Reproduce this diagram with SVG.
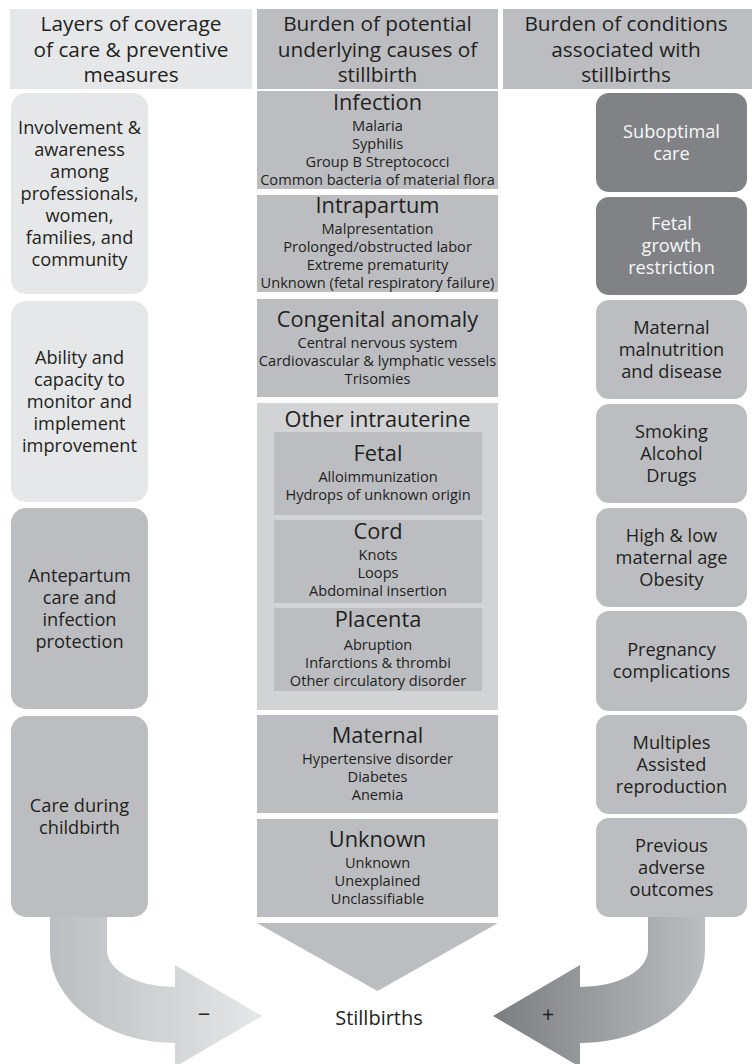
<svg xmlns="http://www.w3.org/2000/svg" width="752" height="1064" viewBox="0 0 752 1064">
<defs>
<style>
text{font-family:"Open Sans","Noto Sans","Liberation Sans",sans-serif;fill:#231f20;text-anchor:middle}
.hd{font-size:20.8px}
.sd{font-size:18.2px}
.tt{font-size:21.8px}
.it{font-size:14.6px}
.wt{fill:#f7f7f7}
.light{fill:#e6e7e8}
.mid{fill:#bcbdc0}
.outer{fill:#d1d3d4}
.dark{fill:#808285}
</style>
<linearGradient id="gl" gradientUnits="userSpaceOnUse" x1="50" y1="0" x2="262" y2="0">
<stop offset="0" stop-color="#bcbdc0"/>
<stop offset="1" stop-color="#e6e7e8"/>
</linearGradient>
<linearGradient id="gr" gradientUnits="userSpaceOnUse" x1="493" y1="0" x2="705" y2="0">
<stop offset="0" stop-color="#7c7d80"/>
<stop offset="1" stop-color="#bcbdc0"/>
</linearGradient>
</defs>
<rect width="752" height="1064" fill="#ffffff"/>

<g id="connectors">
<path d="M50 905 L50 950 A125 93 0 0 0 175 1043 L175 1067 L262 1016 L175 965 L175 987 A68 37 0 0 1 107 950 L107 905 Z" fill="url(#gl)"/>
<path d="M705 905 L705 950 A125 93 0 0 1 580 1043 L580 1067 L493 1016 L580 965 L580 987 A68 37 0 0 0 648 950 L648 905 Z" fill="url(#gr)"/>
<polygon points="257,923 498,923 377.5,991" class="mid"/>
<text x="204" y="1022" style="font-size:22px">−</text>
<text x="548" y="1022" style="font-size:22px">+</text>
</g>

<g id="header-left">
<rect x="10" y="9" width="242" height="80" class="light"/>
<text class="hd" x="131" y="31">Layers of coverage</text>
<text class="hd" x="131" y="56.5">of care &amp; preventive</text>
<text class="hd" x="131" y="82">measures</text>
</g>
<g id="header-mid">
<rect x="257" y="9" width="241" height="80" class="mid"/>
<text class="hd" x="377.5" y="31">Burden of potential</text>
<text class="hd" x="377.5" y="56.5">underlying causes of</text>
<text class="hd" x="377.5" y="82">stillbirth</text>
</g>
<g id="header-right">
<rect x="503" y="9" width="249" height="80" class="mid"/>
<text class="hd" x="626" y="31">Burden of conditions</text>
<text class="hd" x="626" y="56.5">associated with</text>
<text class="hd" x="626" y="82">stillbirths</text>
</g>

<g id="left-involvement">
<rect x="11" y="93" width="137" height="201" rx="15" class="light"/>
<text class="sd" x="79.5" y="134">Involvement &amp;</text>
<text class="sd" x="79.5" y="156">awareness</text>
<text class="sd" x="79.5" y="178">among</text>
<text class="sd" x="79.5" y="200">professionals,</text>
<text class="sd" x="79.5" y="222">women,</text>
<text class="sd" x="79.5" y="244">families, and</text>
<text class="sd" x="79.5" y="266">community</text>
</g>
<g id="left-ability">
<rect x="11" y="301" width="137" height="201" rx="15" class="light"/>
<text class="sd" x="79.5" y="364">Ability and</text>
<text class="sd" x="79.5" y="386">capacity to</text>
<text class="sd" x="79.5" y="408">monitor and</text>
<text class="sd" x="79.5" y="430">implement</text>
<text class="sd" x="79.5" y="452">improvement</text>
</g>
<g id="left-antepartum">
<rect x="11" y="508" width="137" height="201" rx="15" class="mid"/>
<text class="sd" x="79.5" y="582">Antepartum</text>
<text class="sd" x="79.5" y="604">care and</text>
<text class="sd" x="79.5" y="626">infection</text>
<text class="sd" x="79.5" y="648">protection</text>
</g>
<g id="left-childbirth">
<rect x="11" y="716" width="137" height="201" rx="15" class="mid"/>
<text class="sd" x="79.5" y="812">Care during</text>
<text class="sd" x="79.5" y="834">childbirth</text>
</g>

<g id="mid-infection">
<rect x="257" y="91" width="241" height="98" class="mid"/>
<text class="tt" x="377.5" y="109.5">Infection</text>
<text class="it" x="377.5" y="130.5">Malaria</text>
<text class="it" x="377.5" y="148.5">Syphilis</text>
<text class="it" x="377.5" y="166.5">Group B Streptococci</text>
<text class="it" x="377.5" y="184.5">Common bacteria of material flora</text>
</g>
<g id="mid-intrapartum">
<rect x="257" y="195" width="241" height="97" class="mid"/>
<text class="tt" x="377.5" y="212.5">Intrapartum</text>
<text class="it" x="377.5" y="233.5">Malpresentation</text>
<text class="it" x="377.5" y="251.5">Prolonged/obstructed labor</text>
<text class="it" x="377.5" y="269.5">Extreme prematurity</text>
<text class="it" x="377.5" y="287.5">Unknown (fetal respiratory failure)</text>
</g>
<g id="mid-congenital">
<rect x="257" y="299" width="241" height="98" class="mid"/>
<text class="tt" x="377.5" y="326.5">Congenital anomaly</text>
<text class="it" x="377.5" y="347.5">Central nervous system</text>
<text class="it" x="377.5" y="365.5">Cardiovascular &amp; lymphatic vessels</text>
<text class="it" x="377.5" y="383.5">Trisomies</text>
</g>
<g id="mid-other-intrauterine">
<rect x="257" y="403" width="241" height="307" class="outer"/>
<text class="tt" x="377.5" y="427">Other intrauterine</text>
<g id="mid-fetal">
<rect x="274" y="432" width="208" height="83" class="mid"/>
<text class="tt" x="378" y="461">Fetal</text>
<text class="it" x="378" y="482">Alloimmunization</text>
<text class="it" x="378" y="500">Hydrops of unknown origin</text>
</g>
<g id="mid-cord">
<rect x="274" y="520" width="208" height="83" class="mid"/>
<text class="tt" x="378" y="538.5">Cord</text>
<text class="it" x="378" y="560">Knots</text>
<text class="it" x="378" y="578">Loops</text>
<text class="it" x="378" y="596">Abdominal insertion</text>
</g>
<g id="mid-placenta">
<rect x="274" y="608" width="208" height="83" class="mid"/>
<text class="tt" x="378" y="627">Placenta</text>
<text class="it" x="378" y="649.5">Abruption</text>
<text class="it" x="378" y="667.5">Infarctions &amp; thrombi</text>
<text class="it" x="378" y="685.5">Other circulatory disorder</text>
</g>
</g>
<g id="mid-maternal">
<rect x="257" y="715" width="241" height="98" class="mid"/>
<text class="tt" x="377.5" y="742.5">Maternal</text>
<text class="it" x="377.5" y="763.5">Hypertensive disorder</text>
<text class="it" x="377.5" y="781.5">Diabetes</text>
<text class="it" x="377.5" y="799.5">Anemia</text>
</g>
<g id="mid-unknown">
<rect x="257" y="819" width="241" height="98" class="mid"/>
<text class="tt" x="377.5" y="846.5">Unknown</text>
<text class="it" x="377.5" y="867.5">Unknown</text>
<text class="it" x="377.5" y="885.5">Unexplained</text>
<text class="it" x="377.5" y="903.5">Unclassifiable</text>
</g>

<g id="right-suboptimal">
<rect x="596" y="93" width="151" height="99" rx="13" class="dark"/>
<text class="sd wt" x="671.5" y="138">Suboptimal</text>
<text class="sd wt" x="671.5" y="160">care</text>
</g>
<g id="right-fgr">
<rect x="596" y="197" width="151" height="98" rx="13" class="dark"/>
<text class="sd wt" x="671.5" y="230">Fetal</text>
<text class="sd wt" x="671.5" y="252">growth</text>
<text class="sd wt" x="671.5" y="274">restriction</text>
</g>
<g id="right-malnutrition">
<rect x="596" y="300" width="151" height="99" rx="13" class="mid"/>
<text class="sd" x="671.5" y="334">Maternal</text>
<text class="sd" x="671.5" y="356">malnutrition</text>
<text class="sd" x="671.5" y="378">and disease</text>
</g>
<g id="right-smoking">
<rect x="596" y="404" width="151" height="99" rx="13" class="mid"/>
<text class="sd" x="671.5" y="438">Smoking</text>
<text class="sd" x="671.5" y="460">Alcohol</text>
<text class="sd" x="671.5" y="482">Drugs</text>
</g>
<g id="right-age">
<rect x="596" y="508" width="151" height="99" rx="13" class="mid"/>
<text class="sd" x="671.5" y="542">High &amp; low</text>
<text class="sd" x="671.5" y="564">maternal age</text>
<text class="sd" x="671.5" y="586">Obesity</text>
</g>
<g id="right-pregnancy">
<rect x="596" y="611" width="151" height="100" rx="13" class="mid"/>
<text class="sd" x="671.5" y="656">Pregnancy</text>
<text class="sd" x="671.5" y="678">complications</text>
</g>
<g id="right-multiples">
<rect x="596" y="715" width="151" height="99" rx="13" class="mid"/>
<text class="sd" x="671.5" y="749">Multiples</text>
<text class="sd" x="671.5" y="771">Assisted</text>
<text class="sd" x="671.5" y="793">reproduction</text>
</g>
<g id="right-previous">
<rect x="596" y="818" width="151" height="99" rx="13" class="mid"/>
<text class="sd" x="671.5" y="852">Previous</text>
<text class="sd" x="671.5" y="874">adverse</text>
<text class="sd" x="671.5" y="896">outcomes</text>
</g>

<g id="stillbirths">
<text x="379" y="1025" style="font-size:20px">Stillbirths</text>
</g>
</svg>
